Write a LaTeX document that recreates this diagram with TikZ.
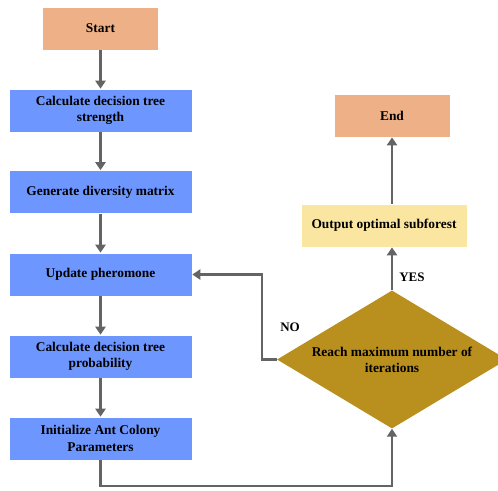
\documentclass[tikz,border=0pt]{standalone}
\usepackage{fontspec}
\setmainfont{Liberation Serif}
\usetikzlibrary{arrows.meta, shapes.geometric}

\definecolor{termorange}{RGB}{238,176,134}
\definecolor{stepblue}{RGB}{110,150,255}
\definecolor{outyellow}{RGB}{250,230,160}
\definecolor{checkgold}{RGB}{185,143,30}
\definecolor{flowgray}{RGB}{100,100,100}

\tikzset{
  box/.style={rectangle, draw=white, line width=0.6pt, align=center,
    minimum height=43pt, inner sep=2pt},
  termbox/.style={box, fill=termorange, minimum width=116pt},
  stepbox/.style={box, fill=stepblue, minimum width=183pt},
  outbox/.style={box, fill=outyellow, minimum width=166pt},
  checkbox/.style={diamond, fill=checkgold, align=center, inner sep=0pt,
    aspect=1.667, minimum width=230pt, minimum height=138pt},
  flow/.style={->, draw=flowgray, line width=2.2pt},
  tag/.style={font=\bfseries\fontsize{13}{15}\selectfont}
}

\begin{document}
\begin{tikzpicture}[x=1pt, y=-1pt, >={Triangle[length=8pt,width=10pt]},
  font=\bfseries\fontsize{13.4}{16.3}\selectfont]

\useasboundingbox (0,0) rectangle (498,490);

% left column
\node[termbox] (start)    at (100.5, 28.5)  {Start};
\node[stepbox] (strength) at (100.5,110.5)  {Calculate decision tree\\strength};
\node[stepbox] (divers)   at (100.5,192)    {Generate diversity matrix};
\node[stepbox] (update)   at (100.5,274.5)  {Update pheromone};
\node[stepbox] (prob)     at (100.5,356.5)  {Calculate decision tree\\probability};
\node[stepbox] (init)     at (100.5,438.5)  {Initialize Ant Colony\\Parameters};

% right column
\node[termbox]  (end)    at (392,115.5) {End};
\node[outbox]   (output) at (384,225.5) {Output optimal subforest};
\node[checkbox] (check)  at (392,359.5) {Reach maximum number of\\iterations};

\foreach \s/\e in {start/strength,strength/divers,divers/update,update/prob,prob/init}
  \draw[flow] (\s) -- (\e);

\draw[flow] (init.south) -- ++(0,26) -| (check.south);
\draw[flow] (check.west) -- ++(-15,0) |- (update.east);
\draw[flow] (check.north) -- (check.north |- output.south);
\draw[flow] (output.north -| end.south) -- (end.south);

\node[tag] (yes) at (412,277) {YES};
\node[tag] (no)  at (290,327) {NO};

\end{tikzpicture}
\end{document}
